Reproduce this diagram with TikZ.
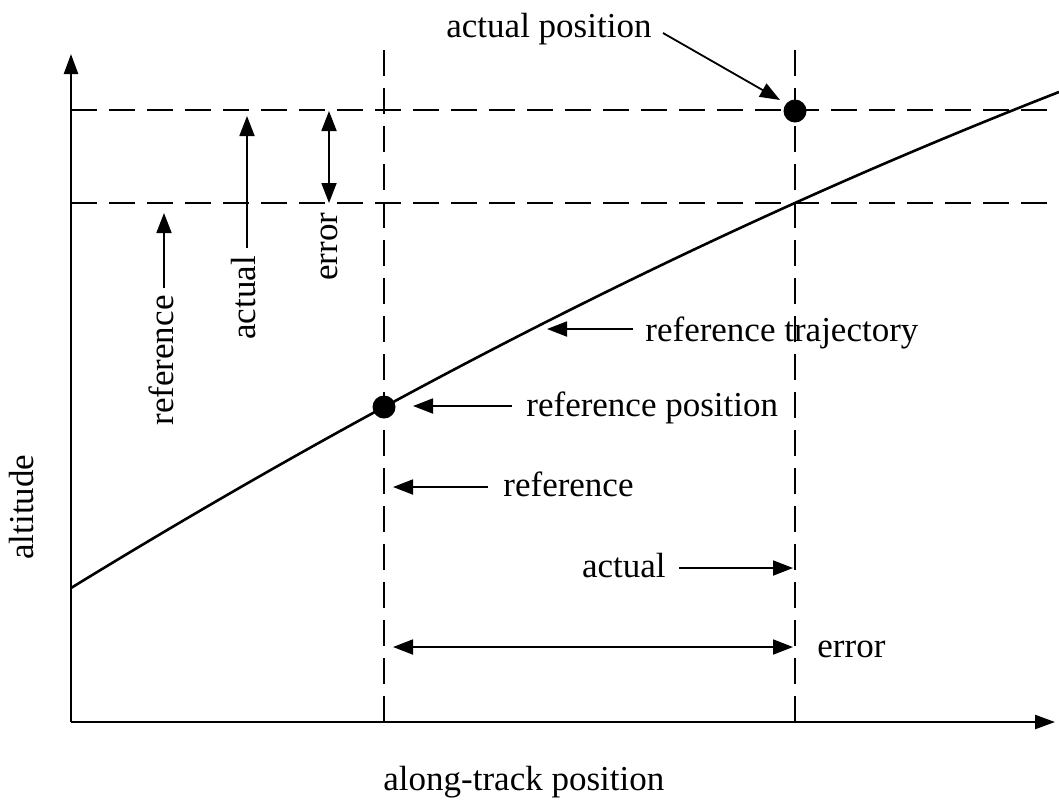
\documentclass[tikz,border=0pt]{standalone}
\usepackage{fontspec}
\setmainfont{Liberation Serif}
\usepackage{tikz}
\usetikzlibrary{arrows.meta, positioning, calc}

\begin{document}
\begin{tikzpicture}[
x=0.5pt, y=-0.5pt,
lbl/.style={inner sep=0pt, font=\fontsize{17.5}{21}\selectfont},
vlbl/.style={lbl, rotate=90, anchor=base west},
axis/.style={line width=1.2pt, -{Triangle[length=10pt, width=7pt]}},
guide/.style={line width=1pt, dash pattern=on 13pt off 6pt},
pointer/.style={line width=0.9pt, -{Triangle[length=10pt, width=7.5pt]}},
span/.style={line width=0.9pt, {Triangle[length=10pt, width=7.5pt]}-{Triangle[length=10pt, width=7.5pt]}},
dot/.style={circle, fill, inner sep=0pt, minimum size=11.5pt}
]
\useasboundingbox (0,0) rectangle (1059,804);

% Axes
\coordinate (O) at (71,722);
\coordinate (ytip) at (71,54);
\coordinate (xtip) at (1055,722);
\draw[axis] (O) -- (ytip);
\draw[axis] (O) -- (xtip);

% Hilfslinien
\coordinate (hact1) at (71,110);
\coordinate (hact2) at (1059,110);
\coordinate (href1) at (71,203);
\coordinate (href2) at (1059,203);
\coordinate (vref1) at (384,50);
\coordinate (vref2) at (384,722);
\coordinate (vact1) at (795,50);
\coordinate (vact2) at (795,722);
\draw[guide] (hact1) -- (hact2);
\draw[guide] (href1) -- (href2);
\draw[guide] (vref1) -- (vref2);
\draw[guide] (vact1) -- (vact2);

% Trajectory
\coordinate (traj0) at (71,588);
\coordinate (traj1) at (1059,92);
\draw[line width=1.3pt] (traj0) .. controls (400.33,385.91) and (729.67,220.58) .. (traj1);

% Positions
\node[dot] (refdot) at (384,407) {};
\node[dot] (actdot) at (795,111) {};

% Labels
\node[lbl, anchor=base west] (actposlbl) at (446,37) {actual position};
\node[lbl, anchor=base west] (trajlbl) at (645,341) {reference trajectory};
\node[lbl, anchor=base west] (refposlbl) at (526,416) {reference position};
\node[lbl, anchor=base west] (reflbl) at (503,496) {reference};
\node[lbl, anchor=base east] (actlbl) at (666,577) {actual};
\node[lbl, anchor=base west] (errlbl) at (817,657) {error};
\node[lbl, anchor=base west] (xlbl) at (383,790) {along-track position};
\node[vlbl] (altlbl) at (33,560) {altitude};
\node[vlbl] (vreflbl) at (173,426) {reference};
\node[vlbl] (vactlbl) at (255,340) {actual};
\node[vlbl] (verrlbl) at (337,281) {error};

% Pfeile
\coordinate (actpos0) at (663,33);
\coordinate (actpos1) at (780,100);
\draw[pointer] (actpos0) -- (actpos1);

\coordinate (traj2) at (633,329);
\coordinate (traj3) at (547,329);
\draw[pointer] (traj2) -- (traj3);

\coordinate (refpos0) at (512,406);
\coordinate (refpos1) at (413,406);
\draw[pointer] (refpos0) -- (refpos1);

\coordinate (ref0) at (488,487);
\coordinate (ref1) at (393,487);
\draw[pointer] (ref0) -- (ref1);

\coordinate (act0) at (679,568);
\coordinate (act1) at (793,568);
\draw[pointer] (act0) -- (act1);

\coordinate (err0) at (393,647);
\coordinate (err1) at (793,647);
\draw[span] (err0) -- (err1);

\coordinate (vref0) at (164,288);
\coordinate (vref3) at (164,213);
\draw[pointer] (vref0) -- (vref3);

\coordinate (vact0) at (247,248);
\coordinate (vact3) at (247,116);
\draw[pointer] (vact0) -- (vact3);

\coordinate (verr0) at (329,111);
\coordinate (verr1) at (329,203);
\draw[span] (verr0) -- (verr1);

\end{tikzpicture}
\end{document}
